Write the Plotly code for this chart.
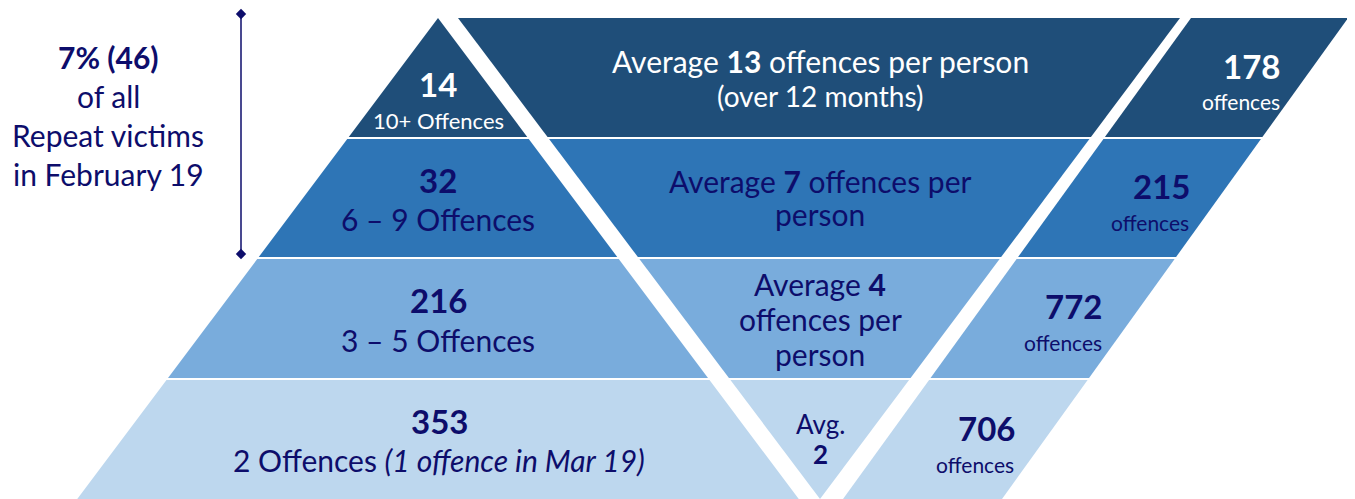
import plotly.graph_objects as go

# ---- data ----
victims = [14, 32, 216, 353]
bands = ["10+ Offences", "6 – 9 Offences", "3 – 5 Offences", "2 Offences"]
band_notes = ["", "", "", "(1 offence in Mar 19)"]
avg_offences = [13, 7, 4, 2]
total_offences = [178, 215, 772, 706]
summary_pct = 7
summary_count = 46
summary_lines = ["of all", "Repeat victims", "in February 19"]

row_colors = ["#1F4E79", "#2E75B6", "#79ACDC", "#BDD7EE"]
NAVY = "#0D0D6B"
FONT = "Lato"

W, H = 1355, 499
PAGE_MARGIN = 8  # default body margin of the html page
bounds = [18, 138, 258, 379, 499]


def tri_l(y):
    return 438 - 0.75 * (y - 18)


def tri_r(y):
    return 438 + 0.75 * (y - 18)


def inv_l(y):
    return 458 + 0.7526 * (y - 18)


def inv_r(y):
    return 1180 - 0.7484 * (y - 18)


def par_l(y):
    return 1191 - 0.7235 * (y - 18)


def par_r(y):
    return 1348 - 0.7193 * (y - 18)


def poly(lf, rf, y0, y1):
    pts = [(lf(y0), y0), (rf(y0), y0), (rf(y1), y1), (lf(y1), y1)]
    return "M " + " L ".join(f"{x:.2f},{y:.2f}" for x, y in pts) + " Z"


shapes = []
for i in range(4):
    y0 = bounds[i] + (1 if i > 0 else 0)
    y1 = bounds[i + 1] - (1 if i < 3 else 0)
    for lf, rf in [(tri_l, tri_r), (inv_l, inv_r), (par_l, par_r)]:
        shapes.append(dict(type="path", path=poly(lf, rf, y0, y1), xref="x", yref="y",
                           fillcolor=row_colors[i], line=dict(width=0), layer="below"))

ann = []


def T(x, y, text, size, color=NAVY, xanchor="center"):
    ann.append(dict(x=x, y=y, xref="x", yref="y", text=text, showarrow=False,
                    xanchor=xanchor, yanchor="middle",
                    font=dict(family=FONT, size=size, color=color)))


BIG = 33
MID = 30
SMALL = 21

# left summary
T(108, 57, f"<b>{summary_pct}% ({summary_count})</b>", MID)
for k, line in enumerate(summary_lines):
    T(108, 96 + 39 * k, line, MID)

# row 1
T(438, 84, f"<b>{victims[0]}</b>", BIG, "white")
T(438, 120, bands[0], 22, "white")
T(820, 61, f"Average <b>{avg_offences[0]}</b> offences per person", MID, "white")
T(820, 96, "(over 12 months)", 28, "white")
T(1282, 66, f"<b>{total_offences[0]}</b>", BIG, "white", "right")
T(1282, 101, "offences", SMALL, "white", "right")

# row 2
T(438, 180, f"<b>{victims[1]}</b>", BIG)
T(438, 219, bands[1], MID)
T(820, 181, f"Average <b>{avg_offences[1]}</b> offences per", MID)
T(820, 214, "person", MID)
T(1192, 186, f"<b>{total_offences[1]}</b>", BIG, NAVY, "right")
T(1191, 222, "offences", SMALL, NAVY, "right")

# row 3
T(438, 300, f"<b>{victims[2]}</b>", BIG)
T(438, 340, bands[2], MID)
T(820, 284, f"Average <b>{avg_offences[2]}</b>", MID)
T(820, 319, "offences per", MID)
T(820, 354, "person", MID)
T(1104, 306, f"<b>{total_offences[2]}</b>", BIG, NAVY, "right")
T(1104, 342, "offences", SMALL, NAVY, "right")

# row 4
T(439, 421, f"<b>{victims[3]}</b>", BIG)
T(439, 460, f"{bands[3]} <i>{band_notes[3]}</i>", MID)
T(820, 424, "Avg.", 26)
T(820, 454, f"<b>{avg_offences[3]}</b>", 26)
T(1017, 428, f"<b>{total_offences[3]}</b>", BIG, NAVY, "right")
T(1016, 464, "offences", SMALL, NAVY, "right")

fig = go.Figure()
fig.add_trace(go.Scatter(x=[241, 241], y=[14, 254], mode="lines+markers",
                         line=dict(color=NAVY, width=1.5),
                         marker=dict(symbol="diamond", size=8, color=NAVY),
                         hoverinfo="skip", showlegend=False, cliponaxis=False))
fig.update_layout(
    width=W - PAGE_MARGIN, height=H - PAGE_MARGIN, margin=dict(l=0, r=0, t=0, b=0),
    paper_bgcolor="white", plot_bgcolor="white",
    xaxis=dict(range=[PAGE_MARGIN, W], visible=False, fixedrange=True),
    yaxis=dict(range=[H, PAGE_MARGIN], visible=False, fixedrange=True),
    shapes=shapes, annotations=ann, showlegend=False,
)
fig.write_html("out.html")
